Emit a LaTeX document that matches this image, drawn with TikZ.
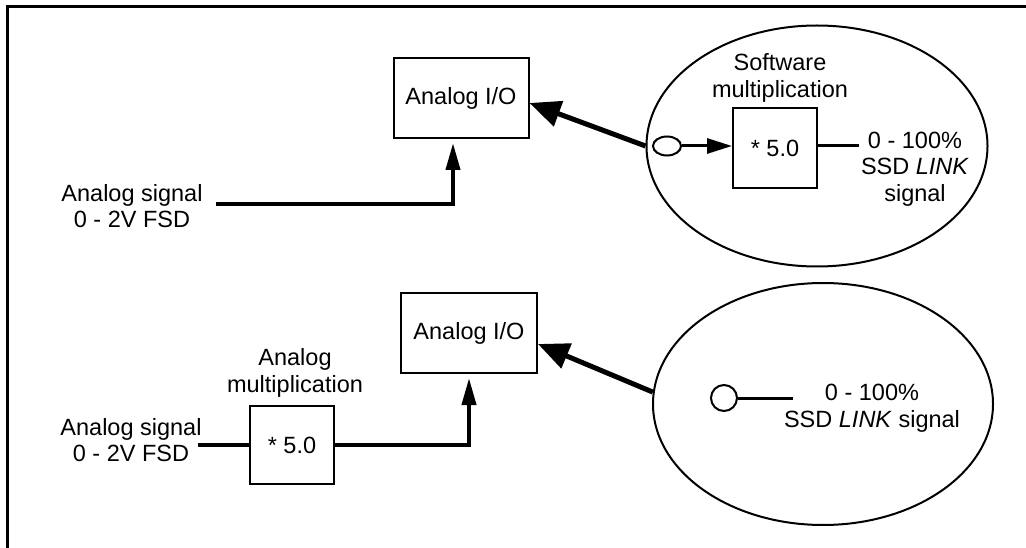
\documentclass[tikz,border=0pt]{standalone}
\usepackage{fontspec}
\setmainfont{Liberation Sans}
\usetikzlibrary{shapes.geometric,arrows.meta}
\begin{document}
\begin{tikzpicture}[x=1pt,y=-1pt,
  font=\fontsize{23.5}{26.5}\selectfont,
  block/.style={draw,shape=rectangle,line width=2pt,inner sep=0pt},
  bubble/.style={draw,shape=ellipse,line width=2pt,inner sep=0pt},
  txt/.style={align=center,inner sep=0pt},
  wire/.style={line width=4pt},
  feed/.style={wire,-{Triangle[length=27pt,width=14pt]},shorten >=4pt},
  push/.style={line width=5pt,-{Triangle[length=31pt,width=26pt]}}]
  \useasboundingbox (0,0) rectangle (1026,548);
  \draw[line width=3pt] (7,548) -- (7,7) -- (1026,7);
  % upper half: software multiplication
  \node[block,minimum width=135pt,minimum height=80pt] (io1) at (461,98) {Analog I/O};
  \node[bubble,minimum width=341pt,minimum height=241pt] (ell1) at (817,146) {};
  \node[txt] (soft) at (780,78) {Software\\multiplication};
  \node[bubble,minimum width=28pt,minimum height=19pt] (port1) at (667,146) {};
  \node[block,minimum width=84pt,minimum height=80pt] (mul1) at (775,148) {* 5.0};
  \coordinate (out1) at (859,146);
  \node[txt] (val1) at (915,169) {0 - 100\%\\SSD \textit{LINK}\\signal};
  \coordinate (in1) at (216,204);
  \node[txt] (sig1) at (132,206) {Analog signal\\0 - 2V FSD};
  \draw[feed] (in1) -| ([xshift=-8pt]io1.south);
  \draw[push] (ell1.west) -- ([yshift=-5pt]io1.east);
  \draw[line width=3pt,-{Triangle[length=25pt,width=15pt]}] (port1.east) -- (port1.east -| mul1.west);
  \draw[line width=3pt] (mul1.east |- out1) -- (out1);
  % lower half: analog multiplication
  \node[block,minimum width=136pt,minimum height=80pt] (io2) at (469,333) {Analog I/O};
  \node[bubble,minimum width=340pt,minimum height=242pt] (ell2) at (823,404) {};
  \node[bubble,minimum size=26pt] (port2) at (724,398) {};
  \coordinate (out2) at (793,398);
  \node[txt] (val2) at (872,408) {0 - 100\%\\SSD \textit{LINK} signal};
  \node[txt] (anmul) at (295,373) {Analog\\multiplication};
  \node[block,minimum width=84pt,minimum height=78pt] (mul2) at (292,445) {* 5.0};
  \coordinate (in2) at (198,445);
  \node[txt] (sig2) at (131,440) {Analog signal\\0 - 2V FSD};
  \draw[wire] (in2) -- (mul2);
  \draw[feed] (mul2) -| (io2);
  \draw[push] (ell2.176) -- ([yshift=-11pt]io2.east);
  \draw[line width=3pt] (port2) -- (out2);
\end{tikzpicture}
\end{document}
